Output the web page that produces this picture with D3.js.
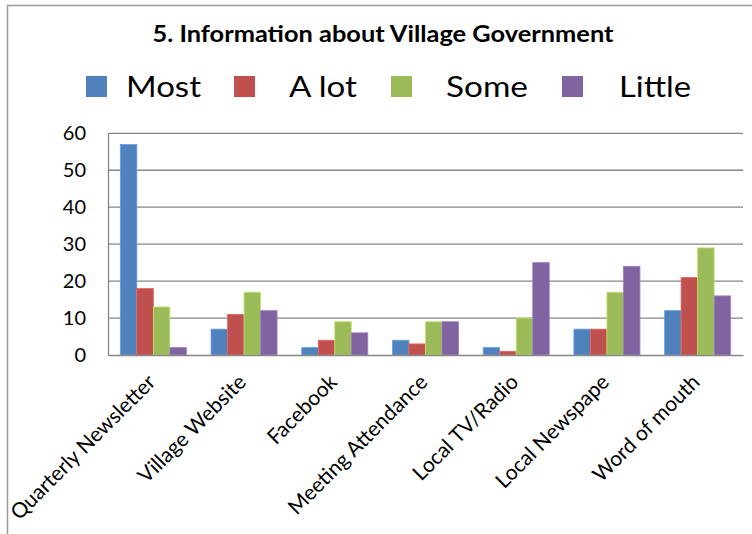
<!DOCTYPE html>
<html><head><meta charset="utf-8">
<script src="https://cdn.jsdelivr.net/npm/d3@7"></script>
<style>body{margin:0;background:#fff}svg{display:block}text{font-family:Lato,"Open Sans",sans-serif;fill:#000}</style>
</head><body><svg id="c" width="752" height="534"></svg>
<script>
const categories = ["Quarterly Newsletter","Village Website","Facebook","Meeting Attendance","Local TV/Radio","Local Newspape","Word of mouth"];
const seriesNames = ["Most","A lot","Some","Little"];
const most   = [57, 7, 2, 4, 2, 7, 12];
const alot   = [18, 11, 4, 3, 1, 7, 21];
const some   = [13, 17, 9, 9, 10, 17, 29];
const little = [2, 12, 6, 9, 25, 24, 16];
const yTicks = [0,10,20,30,40,50,60];
const colors = ["#4F81BD","#C0504D","#9BBB59","#8064A2"];
const series = [most, alot, some, little];
const title = "5. Information about Village Government";

const svg = d3.select("#c");
// chart frame
svg.append("path").attr("d","M7.5,534 V5.5 H752").attr("fill","none").attr("stroke","#9a9a9a").attr("stroke-width",1.5);

const L=108, R=743, T=133.3, B=355;
const x = d3.scaleBand().domain(categories).range([L,R]).paddingInner(0.272).paddingOuter(0.136);
const xs = d3.scaleBand().domain(d3.range(4)).range([0,x.bandwidth()]);
const y = d3.scaleLinear().domain([0,60]).range([B,T]);

// gridlines
svg.append("g").selectAll("line").data(yTicks.slice(1)).join("line")
  .attr("x1",L).attr("x2",R).attr("y1",d=>y(d)).attr("y2",d=>y(d))
  .attr("stroke","#868686").attr("stroke-width",1.3);

// bars
const g = svg.append("g");
series.forEach((vals,si)=>{
  g.selectAll(null).data(vals).join("rect")
    .attr("x",(d,i)=>x(categories[i])+xs(si))
    .attr("width",xs.bandwidth())
    .attr("y",d=>y(d)).attr("height",d=>B-y(d))
    .attr("fill",colors[si])
    .attr("stroke",d3.color(colors[si]).brighter(0.6)).attr("stroke-width",0.8);
});

// axes
const ya = svg.append("g").attr("transform",`translate(${L},0)`)
  .call(d3.axisLeft(y).tickValues(yTicks).tickSize(0).tickPadding(22));
ya.select(".domain").attr("stroke","#868686").attr("stroke-width",1.3);
ya.selectAll("text").attr("font-size",20).attr("font-family","Lato, 'Open Sans', sans-serif");

const xa = svg.append("g").attr("transform",`translate(0,${B})`)
  .call(d3.axisBottom(x).tickSize(0).tickFormat(""));
xa.select(".domain").attr("stroke","#868686").attr("stroke-width",1.3);

svg.append("g").selectAll("text").data(categories).join("text")
  .attr("transform",d=>`translate(${x(d)+x.bandwidth()/2-7},${B+18}) rotate(-45)`)
  .attr("text-anchor","end").attr("dy","0.7em")
  .attr("font-size",21)
  .text(d=>d);

// title
svg.append("text").attr("x",383).attr("y",42).attr("text-anchor","middle")
  .attr("font-size",22).attr("font-weight","bold")
  .attr("textLength",461).attr("lengthAdjust","spacingAndGlyphs")
  .text(title);

// legend
const legX = [86,234,391,562];
const legTX = [126,289,446,619];
const legW = [75,68,82,72];
const lg = svg.append("g");
seriesNames.forEach((n,i)=>{
  lg.append("rect").attr("x",legX[i]).attr("y",76).attr("width",21).attr("height",21).attr("fill",colors[i]);
  lg.append("text").attr("x",legTX[i]).attr("y",97).attr("font-size",29)
    .attr("textLength",legW[i]).attr("lengthAdjust","spacingAndGlyphs").text(n);
});
</script></body></html>
